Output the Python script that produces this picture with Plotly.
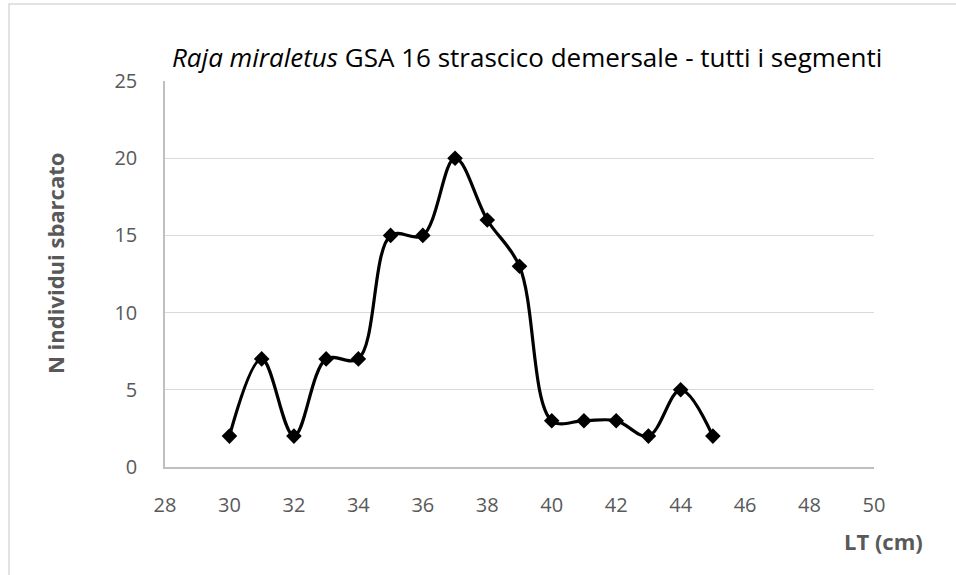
import plotly.graph_objects as go

# Total length classes (cm) and landed individuals
lt_cm = [30, 31, 32, 33, 34, 35, 36, 37, 38, 39, 40, 41, 42, 43, 44, 45]
n_individui = [2, 7, 2, 7, 7, 15, 15, 20, 16, 13, 3, 3, 3, 2, 5, 2]

x_ticks = [28, 30, 32, 34, 36, 38, 40, 42, 44, 46, 48, 50]
y_ticks = [0, 5, 10, 15, 20, 25]

FONT = "Open Sans, sans-serif"
TICK_COLOR = "#595959"

fig = go.Figure()
fig.add_trace(go.Scatter(
    x=lt_cm, y=n_individui,
    mode="lines+markers",
    line=dict(color="black", width=3.2, shape="spline", smoothing=1.0),
    marker=dict(symbol="diamond", size=12, color="black"),
    showlegend=False,
))

fig.update_layout(
    width=956, height=575,
    margin=dict(l=165, r=82, t=81, b=108),
    paper_bgcolor="white", plot_bgcolor="white",
    font=dict(family=FONT, color=TICK_COLOR, size=20),
    xaxis=dict(
        range=[28, 50], tickvals=x_ticks, showgrid=False, zeroline=False,
        showline=True, linecolor="#bfbfbf", linewidth=1.5,
        ticks="", ticklabelstandoff=19, tickfont=dict(size=20, color=TICK_COLOR),
    ),
    yaxis=dict(
        range=[0, 25], tickvals=y_ticks, showgrid=True, gridcolor="#d9d9d9",
        gridwidth=1.4, zeroline=False,
        showline=True, linecolor="#bfbfbf", linewidth=1.5,
        ticks="", ticklabelstandoff=22, tickfont=dict(size=20, color=TICK_COLOR),
    ),
    annotations=[
        dict(text="<i>Raja miraletus</i> GSA 16 strascico demersale - tutti i segmenti",
             xref="paper", yref="paper", x=(527 - 165) / 709, y=1 + (81 - 57) / 386,
             xanchor="center", yanchor="middle", showarrow=False,
             font=dict(family=FONT, size=26, color="black")),
        dict(text="<b>N individui sbarcato</b>",
             xref="paper", yref="paper", x=(55 - 165) / 709, y=(466 - 263) / 386,
             xanchor="center", yanchor="middle", textangle=-90, showarrow=False,
             font=dict(family=FONT, size=22, color=TICK_COLOR)),
        dict(text="<b>LT (cm)</b>",
             xref="paper", yref="paper", x=(883 - 165) / 709, y=(466 - 540) / 386,
             xanchor="center", yanchor="middle", showarrow=False,
             font=dict(family=FONT, size=22, color=TICK_COLOR)),
    ],
    shapes=[
        dict(type="rect", xref="paper", yref="paper",
             x0=(9 - 165) / 709, x1=1.5, y0=-1.0, y1=1 + (81 - 4) / 386,
             line=dict(color="#d9d9d9", width=1.5), layer="below"),
    ],
)

fig.write_html("out.html")
